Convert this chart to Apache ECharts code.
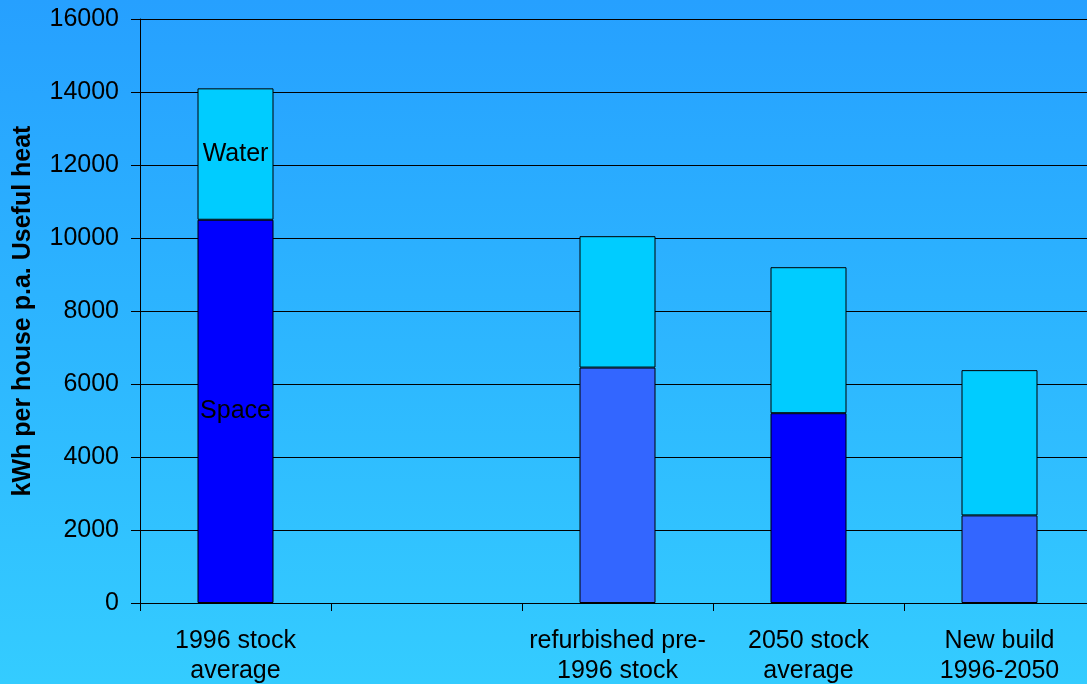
<!DOCTYPE html>
<html>
<head>
<meta charset="utf-8">
<script src="https://cdn.jsdelivr.net/npm/echarts@6/dist/echarts.min.js"></script>
<style>
html,body{margin:0;padding:0;}
#c{width:1087px;height:684px;}
</style>
</head>
<body>
<div id="c"></div>
<script>
const categories = ['1996 stock\naverage', '', 'refurbished pre-\n1996 stock', '2050 stock\naverage', 'New build\n1996-2050'];
const spaceValues = [10500, null, 6450, 5200, 2400];
const waterValues = [3600, null, 3600, 4000, 3980];
const spaceColors = ['#0000FF', null, '#3366FF', '#0000FF', '#3366FF'];
const yTicks = [0, 2000, 4000, 6000, 8000, 10000, 12000, 14000, 16000];
const seriesNames = ['Space', 'Water'];

const font = 'Arial, "Liberation Sans", sans-serif';
const chart = echarts.init(document.getElementById('c'));

const spaceData = spaceValues.map((v, i) => {
  if (v === null) return '-';
  const item = { value: v, itemStyle: { color: spaceColors[i] } };
  if (i === 0) item.label = { show: true, position: 'inside', formatter: seriesNames[0], color: '#000', fontSize: 25, fontFamily: font };
  return item;
});
const waterData = waterValues.map((v, i) => {
  if (v === null) return '-';
  const item = { value: v };
  if (i === 0) item.label = { show: true, position: 'inside', formatter: seriesNames[1], color: '#000', fontSize: 25, fontFamily: font };
  return item;
});

chart.setOption({
  animation: false,
  backgroundColor: new echarts.graphic.LinearGradient(0, 0, 0, 1, [
    { offset: 0, color: '#26A0FF' },
    { offset: 1, color: '#34CCFF' }
  ]),
  grid: { left: 140, right: -8, top: 19, bottom: 81, containLabel: false, outerBoundsMode: 'none' },
  xAxis: {
    type: 'category',
    data: categories,
    axisLine: { lineStyle: { color: '#000', width: 1 } },
    axisTick: { show: true, length: 8, lineStyle: { color: '#000' } },
    axisLabel: { color: '#000', fontSize: 25, fontFamily: font, margin: 23, lineHeight: 30, interval: 0 }
  },
  yAxis: {
    type: 'value',
    min: yTicks[0],
    max: yTicks[yTicks.length - 1],
    interval: 2000,
    name: 'kWh per house p.a. Useful heat',
    nameLocation: 'middle',
    nameRotate: 90,
    nameGap: 104,
    nameTextStyle: { color: '#000', fontSize: 25, fontWeight: 'bold', fontFamily: font },
    axisLine: { show: true, lineStyle: { color: '#000', width: 1 } },
    axisTick: { show: true, length: 9, lineStyle: { color: '#000' } },
    axisLabel: { color: '#000', fontSize: 25, fontFamily: font, margin: 21, formatter: v => String(v) },
    splitLine: { show: true, lineStyle: { color: '#000', width: 1 } }
  },
  series: [
    {
      name: seriesNames[0], type: 'bar', stack: 'total', barWidth: 76,
      data: spaceData,
      itemStyle: { borderColor: '#000', borderWidth: 1 }
    },
    {
      name: seriesNames[1], type: 'bar', stack: 'total', barWidth: 76,
      data: waterData,
      itemStyle: { color: '#00CCFF', borderColor: '#000', borderWidth: 1 }
    }
  ]
});
</script>
</body>
</html>
